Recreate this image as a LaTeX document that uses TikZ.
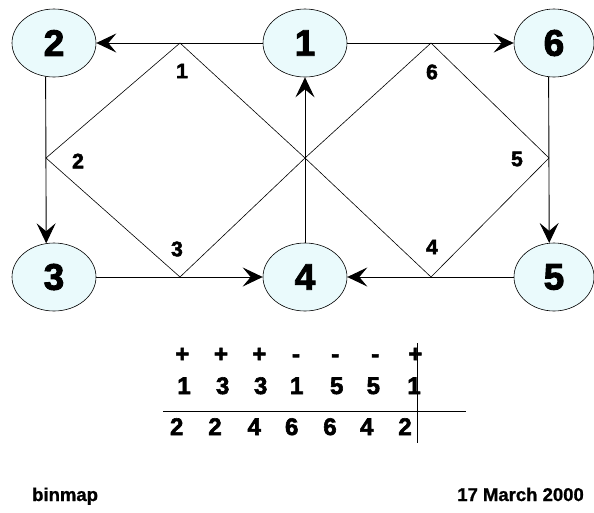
\documentclass[tikz,border=0pt]{standalone}
\usepackage{fontspec}
\setmainfont{Liberation Sans}
\newfontfamily\heavyfont{Liberation Sans}[BoldFeatures={FakeBold=2.5}]
\newfontfamily\footfont{Liberation Sans}[BoldFeatures={FakeBold=1}]
\usetikzlibrary{arrows.meta,shapes.geometric}
\definecolor{nodefill}{RGB}{234,250,252}
\begin{document}
\begin{tikzpicture}[x=1pt,y=-1pt,
  state/.style={ellipse, draw, line width=0.6pt, fill=nodefill, minimum width=84pt, minimum height=68pt, inner sep=0pt, font=\fontsize{37}{40}\selectfont\heavyfont\bfseries},
  narrowstate/.style={state, minimum width=80pt},
  conn/.style={line width=0.9pt, -{Stealth[length=20pt,width=19pt,inset=8pt]}},
  diam/.style={line width=0.6pt},
  vlab/.style={font=\fontsize{21}{23}\selectfont\heavyfont\bfseries, inner sep=0pt},
  tabcell/.style={font=\fontsize{24}{26}\selectfont\heavyfont\bfseries, inner sep=0pt, anchor=base},
  rule/.style={line width=0.8pt},
  foot/.style={font=\fontsize{18.5}{22}\selectfont\footfont\bfseries, inner sep=0pt}]
\useasboundingbox (0,0) rectangle (594,512);

% diamond corners
\coordinate (lt) at (180,43);
\coordinate (ll) at (46,158);
\coordinate (lb) at (180,277);
\coordinate (cx) at (305,158);
\coordinate (rt) at (431,43);
\coordinate (rr) at (549,158);
\coordinate (rb) at (431,277);

\draw[diam] (lt) -- (ll) -- (lb) -- (cx) -- cycle;
\draw[diam] (rt) -- (cx) -- (rb) -- (rr) -- cycle;

% states
\node[state] (n2) at (54,43) {2};
\node[state] (n1) at (305,43) {1};
\node[narrowstate] (n6) at (554,43) {6};
\node[state] (n3) at (54,277) {3};
\node[state] (n4) at (305,277) {4};
\node[narrowstate] (n5) at (554,277) {5};

% connectors
\draw[conn] (n1.west) -- (n2.east);
\draw[conn] (n1.east) -- (n6.west);
\draw[conn] (n2.256.5) -- (n3.103.5);
\draw[conn] (n6.261.6) -- (n5.98.4);
\draw[conn] (n3.east) -- (n4.west);
\draw[conn] (n5.west) -- (n4.east);
\draw[conn] (n4.north) -- (n1.south);

% corner labels
\node[vlab] (c1) at (182,71) {1};
\node[vlab] (c2) at (78,161) {2};
\node[vlab] (c3) at (177,249) {3};
\node[vlab] (c4) at (432,247) {4};
\node[vlab] (c5) at (517,159) {5};
\node[vlab] (c6) at (432,72) {6};

% table
\node[tabcell] (p1) at (182.3,362) {+};
\node[tabcell] (p2) at (221,362) {+};
\node[tabcell] (p3) at (259.3,362) {+};
\node[tabcell] (p4) at (296,362) {-};
\node[tabcell] (p5) at (335.3,362) {-};
\node[tabcell] (p6) at (375.3,362) {-};
\node[tabcell] (p7) at (415.3,362) {+};

\node[tabcell] (a1) at (184,394) {1};
\node[tabcell] (a2) at (222.7,394) {3};
\node[tabcell] (a3) at (260.7,394) {3};
\node[tabcell] (a4) at (296.7,394) {1};
\node[tabcell] (a5) at (336.7,394) {5};
\node[tabcell] (a6) at (373.3,394) {5};
\node[tabcell] (a7) at (414,394) {1};

\node[tabcell] (b1) at (176.7,435) {2};
\node[tabcell] (b2) at (215,435) {2};
\node[tabcell] (b3) at (254.3,435) {4};
\node[tabcell] (b4) at (291.7,435) {6};
\node[tabcell] (b5) at (330,435) {6};
\node[tabcell] (b6) at (366.7,435) {4};
\node[tabcell] (b7) at (405,435) {2};

\coordinate (hl) at (163,411);
\coordinate (hr) at (466,411);
\coordinate (vt) at (417,343);
\coordinate (vb) at (417,443);
\draw[rule] (hl) -- (hr);
\draw[rule] (vt) -- (vb);

% footer
\node[foot, anchor=base west] (fl) at (32,501) {binmap};
\node[foot, anchor=base east] (fr) at (584,501) {17 March 2000};
\end{tikzpicture}
\end{document}
